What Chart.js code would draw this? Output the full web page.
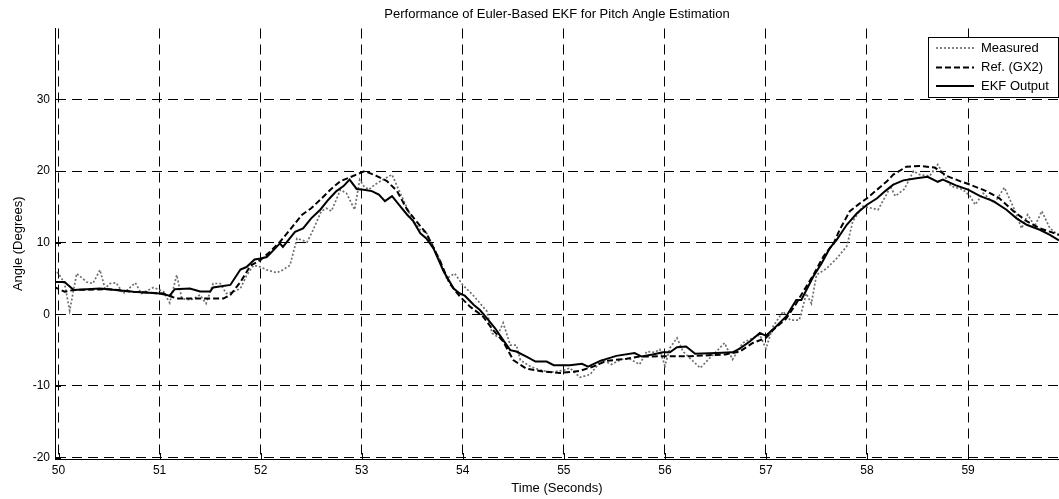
<!DOCTYPE html>
<html lang="en">
<head>
  <meta charset="UTF-8" />
  <title>Euler-Based EKF - Pitch Angle</title>
  <script src="https://cdn.jsdelivr.net/npm/chart.js"></script>
  <style>
    html, body { margin: 0; padding: 0; background: #fff; overflow: hidden; }
    #wrap { width: 1059px; height: 499px; }
  </style>
</head>
<body>
  <div id="wrap"><canvas id="pitchChart" width="1059" height="499"></canvas></div>

  <script>
    // Axis ticks
    const timeTicks = [50, 51, 52, 53, 54, 55, 56, 57, 58, 59];
    const angleTicks = [-20, -10, 0, 10, 20, 30];

    // Raw accelerometer pitch (seconds / degrees)
    const measuredTime = [49.95, 50.0, 50.06, 50.11, 50.18, 50.28, 50.34, 50.41, 50.46, 50.51, 50.57, 50.64, 50.76, 50.82, 50.94,
      51.04, 51.1, 51.17, 51.22, 51.31, 51.4, 51.46, 51.53, 51.6, 51.66, 51.73, 51.8, 51.86, 51.93,
      52.0, 52.06, 52.16, 52.22, 52.29, 52.36, 52.46, 52.52, 52.6, 52.65, 52.7, 52.79, 52.85, 52.93, 52.98,
      53.02, 53.07, 53.13, 53.21, 53.3, 53.35, 53.45, 53.51, 53.58, 53.64, 53.71, 53.76, 53.84, 53.92,
      54.0, 54.1, 54.24, 54.29, 54.34, 54.4, 54.47, 54.53, 54.57, 54.67, 54.77, 54.87,
      55.0, 55.06, 55.16, 55.26, 55.38, 55.47, 55.57, 55.65, 55.75, 55.82, 55.9, 55.95,
      56.0, 56.05, 56.12, 56.18, 56.26, 56.35, 56.43, 56.51, 56.59, 56.67, 56.77, 56.87, 56.94,
      57.0, 57.07, 57.17, 57.24, 57.33, 57.4, 57.45, 57.5, 57.6, 57.7, 57.8, 57.86, 57.96,
      58.05, 58.11, 58.2, 58.23, 58.28, 58.37, 58.46, 58.52, 58.62, 58.7, 58.79, 58.83, 58.95,
      59.02, 59.07, 59.15, 59.26, 59.36, 59.46, 59.53, 59.59, 59.66, 59.73, 59.81, 59.9];
    const measuredAngle = [6.2, 5.7, 4.3, 0.5, 5.7, 4.5, 4.3, 6.2, 3.6, 4.3, 4.4, 2.9, 4.4, 2.9, 3.75,
      3.15, 1.6, 5.5, 2.2, 2.0, 2.7, 1.5, 4.3, 4.3, 2.9, 3.15, 3.6, 5.4, 6.85,
      6.6, 6.2, 5.8, 6.2, 6.85, 10.6, 10.1, 11.8, 14.4, 14.8, 14.4, 17.4, 16.9, 14.6, 18.8,
      17.9, 17.4, 18.1, 18.8, 19.5, 17.9, 14.8, 13.0, 11.8, 11.4, 9.4, 8.0, 5.0, 5.7,
      4.1, 2.7, 0.4, -2.65, -3.1, -1.2, -4.3, -4.3, -6.4, -7.3, -7.8, -8.1,
      -7.8, -7.5, -8.8, -8.4, -6.3, -7.0, -6.3, -6.2, -7.0, -5.2, -5.3, -4.9,
      -7.2, -4.7, -3.3, -5.2, -6.3, -7.5, -6.3, -5.2, -4.0, -6.3, -4.0, -3.3, -2.9,
      -4.8, -1.7, 0.4, -0.8, -0.8, 2.9, 1.5, 5.5, 6.4, 7.8, 9.5, 13.0, 15.1,
      14.8, 14.6, 16.9, 17.9, 16.5, 17.5, 20.0, 19.5, 19.3, 20.9, 18.8, 17.9, 17.4,
      16.5, 15.3, 16.9, 15.5, 17.7, 14.6, 12.0, 13.9, 12.3, 14.4, 12.0, 11.0];

    // Reference attitude from the GX2 unit
    const refTime = [49.95, 50.06, 50.15, 50.5, 50.74, 51.04, 51.12, 51.17, 51.63, 51.7, 51.8, 51.9,
      52.0, 52.09, 52.19, 52.29, 52.41, 52.5, 52.59, 52.69, 52.79, 52.88,
      53.03, 53.15, 53.25, 53.35, 53.45, 53.54, 53.64, 53.78, 53.87, 53.97,
      54.07, 54.2, 54.3, 54.4, 54.5, 54.63, 54.8, 54.96,
      55.16, 55.29, 55.42, 55.62, 55.75, 55.98, 56.25, 56.6, 56.74, 56.87,
      57.0, 57.07, 57.2, 57.3, 57.37, 57.47, 57.57, 57.67, 57.73, 57.83, 57.93,
      58.0, 58.1, 58.2, 58.26, 58.39, 58.52, 58.67, 58.79, 58.92,
      59.02, 59.18, 59.31, 59.45, 59.58, 59.71, 59.9];
    const refAngle = [3.85, 3.15, 3.4, 3.5, 3.15, 2.9, 2.45, 2.2, 2.2, 2.7, 4.5, 6.8,
      7.6, 8.7, 10.1, 11.8, 13.9, 14.8, 16.0, 17.4, 18.6, 19.1,
      20.0, 19.3, 18.6, 17.2, 14.6, 13.0, 11.3, 7.3, 4.3, 2.5,
      1.1, -0.3, -2.2, -3.8, -6.4, -7.6, -8.0, -8.2,
      -7.9, -7.3, -6.5, -6.2, -5.9, -5.85, -5.85, -5.6, -5.2, -4.0,
      -3.3, -2.2, -0.6, 1.5, 3.2, 5.5, 8.1, 9.9, 11.8, 14.4, 15.5,
      16.2, 17.4, 18.6, 19.5, 20.6, 20.7, 20.5, 19.3, 18.6,
      18.1, 17.2, 16.2, 14.4, 13.0, 12.0, 11.1];

    // Filter estimate
    const ekfTime = [49.95, 50.06, 50.15, 50.41, 50.74, 51.0, 51.1, 51.15, 51.3, 51.4, 51.5, 51.53, 51.7, 51.8, 51.86, 51.94,
      52.0, 52.06, 52.13, 52.19, 52.22, 52.34, 52.42, 52.5, 52.59, 52.67, 52.75, 52.82, 52.88, 52.95,
      53.02, 53.1, 53.17, 53.23, 53.3, 53.38, 53.45, 53.51, 53.58, 53.64, 53.71, 53.81, 53.91, 53.97,
      54.02, 54.11, 54.17, 54.24, 54.32, 54.4, 54.47, 54.53, 54.63, 54.72, 54.83, 54.9,
      55.06, 55.18, 55.24, 55.36, 55.52, 55.7, 55.77, 55.88, 55.98,
      56.05, 56.12, 56.21, 56.3, 56.51, 56.67, 56.74, 56.84, 56.94,
      57.0, 57.1, 57.2, 57.3, 57.35, 57.47, 57.55, 57.63, 57.7, 57.8, 57.9,
      58.0, 58.1, 58.18, 58.26, 58.36, 58.49, 58.6, 58.7, 58.75, 58.88,
      59.0, 59.12, 59.25, 59.38, 59.48, 59.58, 59.71, 59.81, 59.9];
    const ekfAngle = [4.5, 4.5, 3.4, 3.6, 3.15, 2.9, 2.6, 3.5, 3.6, 3.2, 3.2, 3.75, 4.1, 6.25, 6.6, 7.65,
      7.8, 8.0, 9.0, 9.9, 9.4, 11.5, 12.0, 13.4, 14.6, 16.0, 17.2, 17.9, 18.8, 17.5,
      17.4, 17.2, 16.7, 15.8, 16.5, 15.1, 13.9, 13.0, 11.3, 10.6, 9.2, 6.0, 3.6, 2.9,
      2.6, 1.3, 0.6, -0.56, -1.95, -3.6, -5.0, -5.2, -5.9, -6.6, -6.6, -7.1,
      -7.1, -6.9, -7.3, -6.5, -5.8, -5.4, -5.9, -5.6, -5.3,
      -5.3, -4.6, -4.5, -5.5, -5.4, -5.3, -4.8, -3.8, -2.6,
      -3.0, -1.7, -0.3, 2.0, 2.0, 5.3, 7.1, 9.2, 10.4, 12.5, 14.1,
      15.3, 16.2, 17.2, 18.1, 18.7, 19.0, 19.2, 18.5, 18.8, 18.0,
      17.4, 16.5, 15.8, 14.6, 13.4, 12.5, 11.8, 11.1, 10.3];

    const FONT = "'Liberation Sans', Arial, sans-serif";

    function toPoints(xs, ys) {
      return xs.map((x, i) => ({ x, y: ys[i] }));
    }

    const series = [
      { label: "Measured", time: measuredTime, angle: measuredAngle, color: "#6e6e6e", width: 1.7, dash: [2, 2], order: 3 },
      { label: "Ref. (GX2)", time: refTime, angle: refAngle, color: "#000", width: 2, dash: [6, 3], order: 2 },
      { label: "EKF Output", time: ekfTime, angle: ekfAngle, color: "#000", width: 2, dash: [], order: 1 }
    ];

    // small inward tick marks like the plotting package draws
    const innerTicks = {
      id: "innerTicks",
      afterDraw(chart) {
        const { ctx, chartArea, scales } = chart;
        ctx.save();
        ctx.strokeStyle = "#000";
        ctx.lineWidth = 1;
        ctx.beginPath();
        timeTicks.forEach(t => {
          const px = Math.round(scales.x.getPixelForValue(t)) + 0.5;
          ctx.moveTo(px, chartArea.bottom);
          ctx.lineTo(px, chartArea.bottom - 6);
        });
        angleTicks.forEach(v => {
          const py = Math.round(scales.y.getPixelForValue(v)) + 0.5;
          ctx.moveTo(chartArea.left, py);
          ctx.lineTo(chartArea.left + 6, py);
        });
        ctx.stroke();
        ctx.restore();
      }
    };

    // boxed legend in the upper right corner
    const boxLegend = {
      id: "boxLegend",
      afterDraw(chart) {
        const { ctx, chartArea } = chart;
        const right = chartArea.right - 0.5;
        const left = 928.5, top = 37.5, bottom = 97.5;
        const rows = [48, 67.5, 86];
        ctx.save();
        ctx.fillStyle = "#fff";
        ctx.fillRect(left, top, right - left, bottom - top);
        ctx.strokeStyle = "#000";
        ctx.lineWidth = 1;
        ctx.strokeRect(left, top, right - left, bottom - top);
        ctx.font = "13px " + FONT;
        ctx.textBaseline = "middle";
        series.forEach((s, i) => {
          ctx.beginPath();
          ctx.strokeStyle = s.color;
          ctx.lineWidth = s.width;
          ctx.setLineDash(s.dash);
          ctx.moveTo(936, rows[i]);
          ctx.lineTo(974, rows[i]);
          ctx.stroke();
          ctx.setLineDash([]);
          ctx.fillStyle = "#000";
          ctx.fillText(s.label, 981, rows[i]);
        });
        ctx.restore();
      }
    };

    new Chart(document.getElementById("pitchChart"), {
      type: "line",
      data: {
        datasets: series.map(s => ({
          label: s.label,
          data: toPoints(s.time, s.angle),
          borderColor: s.color,
          borderWidth: s.width,
          borderDash: s.dash,
          pointRadius: 0,
          tension: 0,
          fill: false,
          order: s.order
        }))
      },
      options: {
        responsive: false,
        animation: false,
        devicePixelRatio: 1,
        layout: { padding: 0 },
        plugins: {
          legend: { display: false },
          tooltip: { enabled: false },
          title: {
            display: true,
            text: "Performance of Euler-Based EKF for Pitch Angle Estimation",
            fullSize: false,
            color: "#000",
            font: { family: FONT, size: 13, weight: "normal" },
            padding: { top: 6.2, bottom: 6.7 }
          }
        },
        scales: {
          x: {
            type: "linear",
            min: 49.965,
            max: 59.9,
            afterBuildTicks: s => { s.ticks = timeTicks.map(v => ({ value: v })); },
            afterFit: s => { s.height = 40; },
            grid: { color: "#000", lineWidth: 1, drawTicks: false },
            border: { display: true, color: "#000", width: 1, dash: [10, 6] },
            ticks: { color: "#000", padding: 4, maxRotation: 0, autoSkip: false, font: { family: FONT, size: 12 } },
            title: { display: true, text: "Time (Seconds)", color: "#000", font: { family: FONT, size: 13 }, padding: { top: 0, bottom: 3.2 } }
          },
          y: {
            min: -20.2,
            max: 39.9,
            afterBuildTicks: s => { s.ticks = angleTicks.map(v => ({ value: v })); },
            afterFit: s => { s.width = 55; },
            grid: { color: "#000", lineWidth: 1, drawTicks: false },
            border: { display: true, color: "#000", width: 1, dash: [10, 6] },
            ticks: { color: "#000", padding: 5, font: { family: FONT, size: 12 } },
            title: { display: true, text: "Angle (Degrees)", color: "#000", font: { family: FONT, size: 13 }, padding: { top: 10.7, bottom: 0 } }
          }
        }
      },
      plugins: [innerTicks, boxLegend]
    });
  </script>
</body>
</html>
